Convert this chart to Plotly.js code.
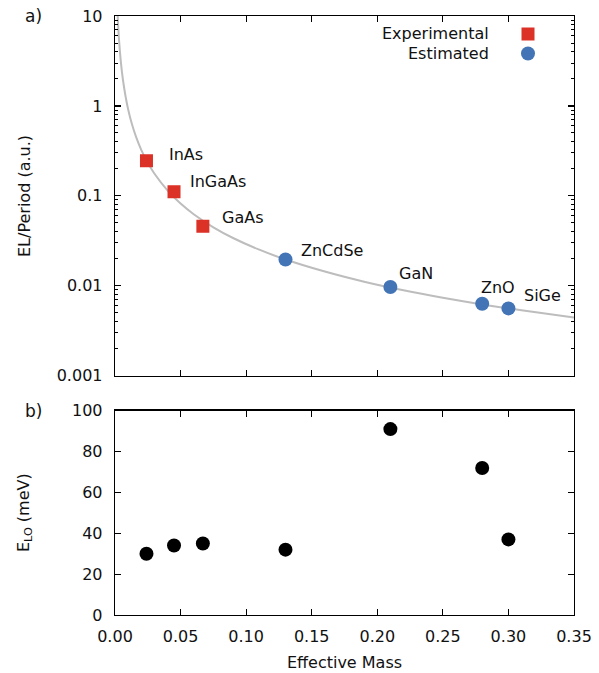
<!DOCTYPE html>
<html>
<head>
<meta charset="utf-8">
<script src="https://cdn.plot.ly/plotly-3.0.1.min.js"></script>
<style>html,body{margin:0;padding:0;background:#fff;}#chart{width:599px;height:673px;}</style>
</head>
<body>
<div id="chart"></div>
<script>
// ---- data ----
const expNames = ["InAs", "InGaAs", "GaAs"];
const expMass = [0.024, 0.045, 0.067];
const expEL = [0.245, 0.111, 0.046];

const estNames = ["ZnCdSe", "GaN", "ZnO", "SiGe"];
const estMass = [0.130, 0.210, 0.280, 0.300];
const estEL = [0.0196, 0.0097, 0.0063, 0.0056];

const curveMass = [0.0019, 0.003, 0.0045, 0.006, 0.008, 0.010, 0.013, 0.016, 0.020, 0.025, 0.030, 0.040, 0.050, 0.060, 0.075, 0.090, 0.110, 0.130, 0.160, 0.190, 0.220, 0.250, 0.280, 0.310, 0.350];
const curveEL = [11, 5.6, 3.05, 1.98, 1.29, 0.92, 0.62, 0.455, 0.325, 0.233, 0.177, 0.115, 0.082, 0.0625, 0.0447, 0.034, 0.0252, 0.0196, 0.0144, 0.0111, 0.0089, 0.00735, 0.0062, 0.00533, 0.00444];

const allMass = [0.024, 0.045, 0.067, 0.130, 0.210, 0.280, 0.300];
const eLO = [30, 34, 35, 32, 91, 72, 37];

const yLogTickVals = [0.001, 0.01, 0.1, 1, 10];
const yLogTickText = ["0.001", "0.01", "0.1", "1", "10"];
const xTickVals = [0, 0.05, 0.10, 0.15, 0.20, 0.25, 0.30, 0.35];
const xTickText = ["0.00", "0.05", "0.10", "0.15", "0.20", "0.25", "0.30", "0.35"];
const yLinTickVals = [0, 20, 40, 60, 80, 100];
const yLinTickText = ["0", "20", "40", "60", "80", "100"];

// ---- styles ----
const RED = "#db3127";
const BLUE = "#4274b6";
const FONT = "DejaVu Sans, sans-serif";
const FS = 16;

// label offsets (pixels) relative to each point
const expOffsets = [[21, 6], [14, 10], [17, 9]];
const estOffsets = [[14, 9], [7, 13], [-3, 16], [14, 13]];

const minorLog = [];
for (let e = -3; e < 1; e++) {
  for (let k = 2; k <= 9; k++) minorLog.push(k * Math.pow(10, e));
}

const traces = [
  {x: curveMass, y: curveEL, xaxis: "x", yaxis: "y", mode: "lines", line: {color: "#bdbdbd", width: 2, shape: "spline"}, hoverinfo: "skip", showlegend: false},
  {x: expMass, y: expEL, xaxis: "x", yaxis: "y", mode: "markers", name: "Experimental", marker: {symbol: "square", size: 13, color: RED}, showlegend: false},
  {x: estMass, y: estEL, xaxis: "x", yaxis: "y", mode: "markers", name: "Estimated", marker: {symbol: "circle", size: 14, color: BLUE}, showlegend: false},
  {x: allMass, y: eLO, xaxis: "x2", yaxis: "y2", mode: "markers", marker: {symbol: "circle", size: 14, color: "black"}, showlegend: false}
];

const axisCommon = {
  showline: true, linecolor: "black", linewidth: 1.3, mirror: "ticks",
  ticks: "inside", ticklen: 6, tickwidth: 1.2, tickcolor: "black",
  showgrid: false, zeroline: false,
  tickfont: {family: FONT, size: FS, color: "#111"}
};

const annotations = [];
expNames.forEach((n, i) => annotations.push({
  x: expMass[i], y: Math.log10(expEL[i]), xref: "x", yref: "y", text: n, showarrow: false,
  xanchor: "left", yanchor: "middle", xshift: expOffsets[i][0], yshift: expOffsets[i][1],
  font: {family: FONT, size: FS, color: "#111"}
}));
estNames.forEach((n, i) => annotations.push({
  x: estMass[i], y: Math.log10(estEL[i]), xref: "x", yref: "y", text: n, showarrow: false,
  xanchor: "left", yanchor: "middle", xshift: estOffsets[i][0], yshift: estOffsets[i][1],
  font: {family: FONT, size: FS, color: "#111"}
}));

const legendItems = [{text: "Experimental", color: RED, sym: "rect"}, {text: "Estimated", color: BLUE, sym: "circle"}];

const layout = {
  width: 599, height: 673,
  margin: {l: 115, r: 25, t: 16, b: 58},
  paper_bgcolor: "white", plot_bgcolor: "white",
  font: {family: FONT, size: FS, color: "#111"},
  showlegend: false,
  xaxis: Object.assign({}, axisCommon, {domain: [0, 1], anchor: "y", range: [0, 0.35], tickmode: "array", tickvals: xTickVals, ticktext: xTickText, showticklabels: false}),
  yaxis: Object.assign({}, axisCommon, {domain: [0.3995, 1], anchor: "x", type: "log", range: [-3, 1], tickmode: "array", tickvals: yLogTickVals, ticktext: yLogTickText,
    ticklabelstandoff: 8,
    minor: {tickmode: "array", tickvals: minorLog, ticks: "inside", ticklen: 3, tickwidth: 1, tickcolor: "black", showgrid: false}}),
  xaxis2: Object.assign({}, axisCommon, {domain: [0, 1], anchor: "y2", range: [0, 0.35], tickmode: "array", tickvals: xTickVals, ticktext: xTickText,
    ticklabelstandoff: 6,
    title: {text: "Effective Mass", font: {family: FONT, size: FS, color: "#111"}, standoff: 12}}),
  yaxis2: Object.assign({}, axisCommon, {domain: [0, 0.341], anchor: "x2", range: [0, 100], tickmode: "array", tickvals: yLinTickVals, ticktext: yLinTickText,
    ticklabelstandoff: 8}),
  annotations: [],
  shapes: []
};

// pixel -> paper helpers for fixed decorations (panel tags, axis titles, legend keys)
const plotW = 599 - 115 - 25, plotH = 673 - 16 - 58;
const px = (X) => (X - 115) / plotW;
const py = (Y) => (673 - 58 - Y) / plotH;

annotations.push({x: px(33), y: py(16), xref: "paper", yref: "paper", text: "a)", showarrow: false, xanchor: "center", yanchor: "middle", font: {family: FONT, size: 17, color: "#111"}});
annotations.push({x: px(33), y: py(411), xref: "paper", yref: "paper", text: "b)", showarrow: false, xanchor: "center", yanchor: "middle", font: {family: FONT, size: 17, color: "#111"}});
annotations.push({x: px(24), y: py(196), xref: "paper", yref: "paper", text: "EL/Period (a.u.)", textangle: -90, showarrow: false, xanchor: "center", yanchor: "middle", font: {family: FONT, size: FS, color: "#111"}});
annotations.push({x: px(24), y: py(513), xref: "paper", yref: "paper", text: "E<sub>LO</sub> (meV)", textangle: -90, showarrow: false, xanchor: "center", yanchor: "middle", font: {family: FONT, size: FS, color: "#111"}});

legendItems.forEach((it, i) => {
  const cy = 34 + i * 19.5;
  annotations.push({x: px(491), y: py(cy), xref: "paper", yref: "paper", text: it.text, showarrow: false, xanchor: "right", yanchor: "middle", font: {family: FONT, size: FS, color: "#111"}});
  const half = it.sym === "rect" ? 6.5 : 7;
  layout.shapes.push({type: it.sym, xref: "paper", yref: "paper",
    x0: px(528 - half), x1: px(528 + half), y0: py(cy - half), y1: py(cy + half),
    fillcolor: it.color, line: {width: 0}});
});

layout.annotations = annotations;

Plotly.newPlot("chart", traces, layout, {displayModeBar: false, staticPlot: true});
</script>
</body>
</html>
